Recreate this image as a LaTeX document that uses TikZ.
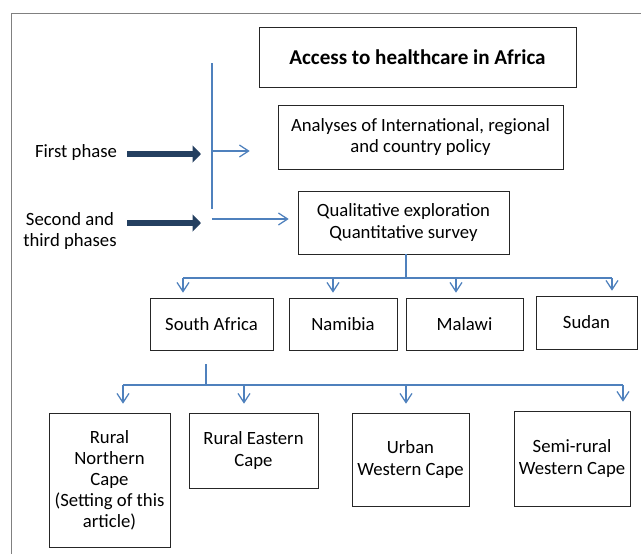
\documentclass[tikz,border=0pt]{standalone}
\usepackage{fontspec}
\setmainfont{Carlito}
\usetikzlibrary{arrows.meta}
\tikzset{>=latex}
\definecolor{connector}{HTML}{4F81BD}
\definecolor{phasearrow}{HTML}{243F60}
\definecolor{framegray}{HTML}{808080}
\tikzset{
  box/.style={draw=black!85, thin, align=center, inner sep=2pt, font=\fontsize{13.3}{15}\selectfont},
  link/.style={connector, line width=0.9pt},
  linkarrow/.style={link, -{Straight Barb[length=6.5pt,width=8.5pt]}},
  phase/.style={phasearrow, line width=4.3pt, -{Triangle[length=6pt,width=12pt]}}
}

\begin{document}
\begin{tikzpicture}[x=0.025cm, y=-0.025cm]
    \useasboundingbox (0, 0) rectangle (641, 554);
    \draw[framegray] (11, 554) -- (11, 13) -- (641, 13);

    \node[box, minimum width=317*0.025cm, minimum height=60*0.025cm, font=\fontsize{15}{18}\selectfont\bfseries] (title) at (417.5, 57) {Access to healthcare in Africa};
    \node[box, minimum width=285*0.025cm, minimum height=64*0.025cm] (policy) at (420.5, 137) {Analyses of International, regional\\and country policy};
    \node[box, minimum width=211*0.025cm, minimum height=63*0.025cm] (survey) at (403.5, 222.5) {Qualitative exploration\\Quantitative survey};

    \node[box, minimum width=123*0.025cm, minimum height=52*0.025cm] (southafrica) at (211.5, 324) {South Africa};
    \node[box, minimum width=108*0.025cm, minimum height=52*0.025cm] (namibia) at (343, 324) {Namibia};
    \node[box, minimum width=117*0.025cm, minimum height=52*0.025cm] (malawi) at (464.5, 324) {Malawi};
    \node[box, minimum width=101*0.025cm, minimum height=53*0.025cm] (sudan) at (586.5, 322.5) {Sudan};

    \node[box, minimum width=121*0.025cm, minimum height=134*0.025cm] (northern) at (109.5, 480) {Rural\\Northern\\Cape\\(Setting of this\\article)};
    \node[box, minimum width=129*0.025cm, minimum height=75*0.025cm] (eastern) at (253.5, 450.5) {Rural Eastern\\Cape};
    \node[box, minimum width=117*0.025cm, minimum height=93*0.025cm] (urban) at (410.5, 459.5) {Urban\\Western Cape};
    \node[box, minimum width=116*0.025cm, minimum height=95*0.025cm] (semirural) at (572, 458.5) {Semi-rural\\Western Cape};

    % phases
    \node[font=\fontsize{13.3}{15}\selectfont] (first) at (76, 153) {First phase};
    \node[font=\fontsize{13.3}{15}\selectfont, align=center] (second) at (70, 231) {Second and\\third phases};
    \coordinate (firsttail) at (127, 154);
    \coordinate (firsttip) at (201, 154);
    \coordinate (secondtail) at (127, 223);
    \coordinate (secondtip) at (201, 223);
    \draw[phase] (firsttail) -- (firsttip);
    \draw[phase] (secondtail) -- (secondtip);

    \coordinate (spinetop) at (212, 63);
    \coordinate (spinebot) at (212, 209);
    \draw[link] (spinetop) -- (spinebot);
    \draw[linkarrow, shorten >=28*0.025cm] (212, 151) -- (policy.west |- 0, 151);
    \draw[linkarrow, shorten >=9*0.025cm] (212, 219) -- (survey.west |- 0, 219);

    % countries
    \coordinate (countrybar) at (406, 278);
    \draw[link] (survey.south -| countrybar) -- (countrybar);
    \draw[link] (183, 278) -- (612, 278);
    \foreach \x/\n in {183/southafrica, 333/namibia, 456/malawi, 612/sudan}
        \draw[linkarrow, shorten >=5*0.025cm] (\x, 278) -- (\x, 0 |- \n.north);

    % provinces
    \coordinate (provincebar) at (206, 385);
    \draw[link] (206, 364) -- (provincebar);
    \draw[link] (123, 385) -- (623, 385);
    \foreach \x/\n in {123/northern, 244/eastern, 406/urban, 623/semirural}
        \draw[linkarrow, shorten >=9*0.025cm] (\x, 385) -- (\x, 0 |- \n.north);
\end{tikzpicture}
\end{document}
